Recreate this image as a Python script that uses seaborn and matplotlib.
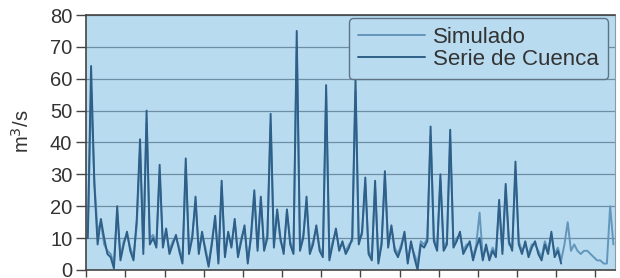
import numpy as np
import pandas as pd
import seaborn as sns
import matplotlib.pyplot as plt

# Monthly flows (m3/s)
serie_cuenca = [10, 64, 27, 8, 16, 10, 5, 4, 0.5, 20,
                3, 8, 12, 6, 3, 16, 41, 5, 50, 8,
                10, 7, 33, 7, 13, 5, 8, 11, 6, 2,
                35, 5, 10, 23, 5, 12, 6, 1, 8, 17,
                2, 28, 4, 12, 7, 16, 4, 9, 14, 2,
                11, 25, 6, 23, 6, 10, 49, 7, 19, 10,
                5, 19, 8, 5, 75, 6, 10, 23, 5, 8,
                14, 6, 4, 58, 3, 8, 13, 6, 9, 5,
                7, 10, 60, 8, 12, 29, 5, 3, 28, 2,
                8, 31, 7, 14, 6, 4, 7, 12, 2, 9,
                4, 0, 8, 7, 9, 45, 9, 6, 30, 6,
                8, 44, 7, 9, 12, 5, 7, 9, 3, 7,
                10, 3, 8, 3, 6, 4, 22, 5, 27, 9,
                6, 34, 8, 5, 9, 4, 7, 9, 5, 3,
                8, 5, 12, 4, 6, 2]

simulado = [12, 56, 28, 12, 15, 8, 6, 5, 2, 18,
            4, 9, 11, 7, 4, 14, 38, 7, 46, 10,
            11, 8, 30, 8, 12, 6, 9, 10, 7, 3,
            32, 6, 11, 21, 6, 11, 7, 2, 9, 16,
            3, 26, 5, 11, 8, 15, 5, 10, 13, 3,
            10, 23, 7, 22, 7, 11, 45, 8, 18, 9,
            6, 18, 9, 6, 70, 7, 11, 21, 6, 9,
            13, 7, 5, 55, 4, 9, 12, 7, 8, 6,
            8, 9, 56, 9, 11, 27, 6, 4, 26, 3,
            9, 29, 8, 13, 7, 5, 8, 11, 3, 8,
            5, 2, 9, 8, 10, 42, 10, 7, 28, 7,
            9, 41, 8, 10, 11, 6, 8, 8, 4, 8,
            18, 4, 7, 4, 7, 5, 20, 6, 25, 8,
            7, 31, 9, 6, 8, 5, 8, 8, 6, 4,
            9, 6, 11, 5, 7, 3, 8, 15, 6, 8,
            6, 5, 6, 6, 5, 4, 3, 3, 2, 2,
            20, 8]

y_ticks = [0, 10, 20, 30, 40, 50, 60, 70, 80]

df = pd.DataFrame({
    'mes': list(range(len(simulado))) + list(range(len(serie_cuenca))),
    'caudal': simulado + serie_cuenca,
    'serie': ['Simulado'] * len(simulado) + ['Serie de Cuenca'] * len(serie_cuenca),
})

sns.set_style('white')
plt.rcParams['font.family'] = ['Liberation Sans', 'DejaVu Sans']

fig = plt.figure(figsize=(6.2, 2.78), dpi=100)
ax = fig.add_axes([0.139, 0.029, 0.853, 0.917])
ax.set_facecolor('#b8dbf0')

sns.lineplot(data=df, x='mes', y='caudal', hue='serie',
             palette={'Simulado': '#6396bb', 'Serie de Cuenca': '#2e5f88'},
             linewidth=1.4, ax=ax)

ax.set_xlim(-0.5, len(simulado) - 0.5)
ax.set_ylim(0, 80)
ax.set_yticks(y_ticks)
ax.set_xticks(np.arange(-0.5, len(simulado), 12))
ax.set_xticklabels([])
ax.set_xlabel('')
ax.set_ylabel('m$^3$/s', fontsize=14.5, color='#333333')
ax.yaxis.set_label_coords(-0.10, 0.545)
ax.grid(axis='y', color='#6f8ea5', linewidth=0.9)
ax.set_axisbelow(True)
ax.tick_params(axis='y', labelsize=14.5, labelcolor='#333333', length=7,
               width=1, color='#444444', left=True, pad=3)
ax.tick_params(axis='x', length=5, width=1, color='#444444', bottom=True)

for side in ['top', 'left', 'bottom']:
    ax.spines[side].set_color('#444444')
    ax.spines[side].set_linewidth(1.2)
ax.spines['right'].set_color('#8a9aa8')

leg = ax.legend(loc='upper right', bbox_to_anchor=(0.987, 0.988),
                borderaxespad=0, fontsize=16, frameon=True, fancybox=True,
                handlelength=3.0, handletextpad=0.4, labelspacing=0.05,
                borderpad=0.4)
leg.get_frame().set_facecolor('#b8dbf0')
leg.get_frame().set_edgecolor('#5f7385')
leg.get_frame().set_linewidth(1.0)
leg.get_frame().set_alpha(1)
for t in leg.get_texts():
    t.set_color('#333333')

fig.savefig('out.png', dpi=100)
